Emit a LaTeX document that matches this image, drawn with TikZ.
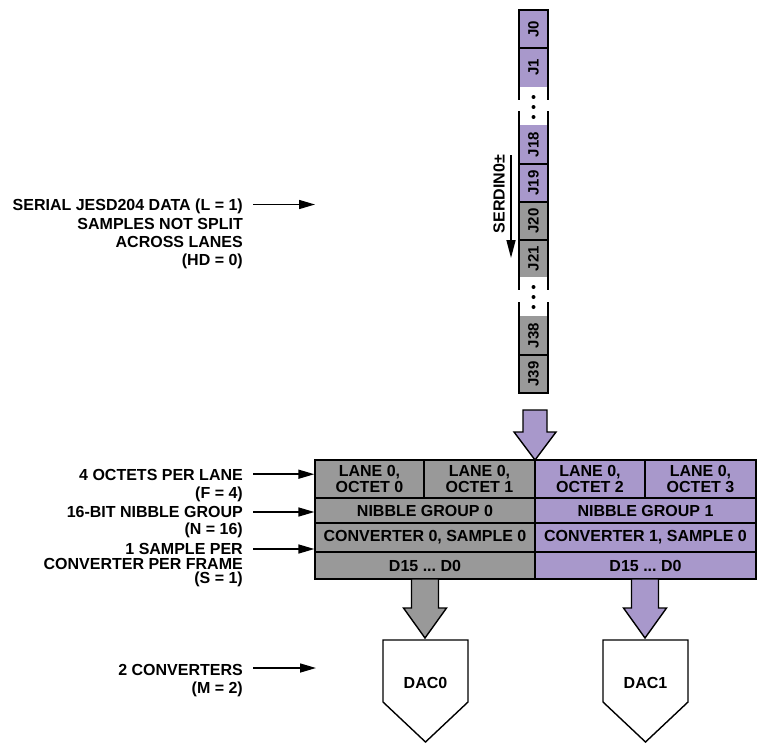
\documentclass[tikz,border=0pt]{standalone}
\usepackage{fontspec}
\setmainfont{Liberation Sans}
\usetikzlibrary{arrows.meta}
\definecolor{purp}{HTML}{A898CB}
\definecolor{gry}{HTML}{999999}
\frenchspacing
\tikzset{
  lbl/.style={inner sep=0pt, align=right, anchor=north east},
  arr/.style={line width=1.5pt, -{Triangle[length=16pt,width=9pt]}},
  lanecell/.style={inner sep=0pt, minimum width=29pt, font=\bfseries\fontsize{15}{16}\selectfont},
  blk/.style={draw, line width=1.3pt, inner sep=0pt, align=center, font=\bfseries\fontsize{16}{16.5}\selectfont},
  bigarr/.style={draw, line width=1.4pt, line join=miter},
  lane/.style={line width=2pt},
  dac/.style={draw, line width=1.4pt, fill=white},
}
\begin{document}
\begin{tikzpicture}[x=1pt,y=-1pt]
\useasboundingbox (0,0) rectangle (759,744);

% ---- lane column ----
\node[lanecell, fill=purp, minimum height=38pt] (j0)  at (533.5,29)   {\rotatebox{90}{J0}};
\node[lanecell, fill=purp, minimum height=39pt] (j1)  at (533.5,67.5) {\rotatebox{90}{J1}};
\node[lanecell, fill=purp, minimum height=39pt] (j18) at (533.5,144.5){\rotatebox{90}{J18}};
\node[lanecell, fill=purp, minimum height=38pt] (j19) at (533.5,183)  {\rotatebox{90}{J19}};
\node[lanecell, fill=gry,  minimum height=38pt] (j20) at (533.5,221)  {\rotatebox{90}{J20}};
\node[lanecell, fill=gry,  minimum height=37pt] (j21) at (533.5,258.5){\rotatebox{90}{J21}};
\node[lanecell, fill=gry,  minimum height=39pt] (j38) at (533.5,335.5){\rotatebox{90}{J38}};
\node[lanecell, fill=gry,  minimum height=38pt] (j39) at (533.5,374)  {\rotatebox{90}{J39}};
\foreach \xx in {519,548} {
  \draw[lane] (\xx,10) -- (\xx,100);
  \draw[lane] (\xx,111) -- (\xx,290);
  \draw[lane] (\xx,302) -- (\xx,393);
}
\foreach \yy in {10,48,164,202,240,355,393} {
  \draw[lane] (518,\yy) -- (549,\yy);
}
\foreach \yy in {97,107,117,287,297,307} {
  \fill (533.5,\yy) circle (2pt);
}

% ---- SERDIN label ----
\node[inner sep=0pt, font=\bfseries\fontsize{16}{18}\selectfont] (serdin) at (499,194) {\rotatebox{90}{SERDIN0±}};
\coordinate (sdtop) at (511,155);
\coordinate (sdbot) at (511,258);
\draw[line width=1.5pt, -{Triangle[length=18pt,width=9pt]}] (sdtop) -- (sdbot);

% ---- big purple arrow ----
\draw[bigarr, fill=purp] (523,410) -- (547,410) -- (547,432) -- (556,432) -- (535,460) -- (514,432) -- (523,432) -- cycle;

% ---- frame block ----
\node[blk, fill=gry,  minimum width=109pt, minimum height=38pt] (o0) at (369.5,479) {LANE 0,\\OCTET 0};
\node[blk, fill=gry,  minimum width=111pt, minimum height=38pt] (o1) at (479.5,479) {LANE 0,\\OCTET 1};
\node[blk, fill=purp, minimum width=110pt, minimum height=38pt] (o2) at (590,479)   {LANE 0,\\OCTET 2};
\node[blk, fill=purp, minimum width=111pt, minimum height=38pt] (o3) at (700.5,479) {LANE 0,\\OCTET 3};
\node[blk, fill=gry,  minimum width=220pt, minimum height=25pt] (n0) at (425,510.5) {NIBBLE GROUP 0};
\node[blk, fill=purp, minimum width=221pt, minimum height=25pt] (n1) at (645.5,510.5) {NIBBLE GROUP 1};
\node[blk, fill=gry,  minimum width=220pt, minimum height=29pt] (c0) at (425,537.5) {CONVERTER 0, SAMPLE 0};
\node[blk, fill=purp, minimum width=221pt, minimum height=29pt] (c1) at (645.5,537.5) {CONVERTER 1, SAMPLE 0};
\node[blk, fill=gry,  minimum width=220pt, minimum height=27pt] (d0) at (425,565.5) {D15 ... D0};
\node[blk, fill=purp, minimum width=221pt, minimum height=27pt] (d1) at (645.5,565.5) {D15 ... D0};
\draw[line width=2pt] (315,460) rectangle (756,579);

% ---- down arrows ----
\draw[bigarr, fill=gry]  (411.5,579) -- (438.5,579) -- (438.5,608) -- (446.5,608) -- (425,638) -- (403.5,608) -- (411.5,608) -- cycle;
\draw[bigarr, fill=purp] (631.5,579) -- (658.5,579) -- (658.5,608) -- (666.5,608) -- (645,638) -- (623.5,608) -- (631.5,608) -- cycle;

% ---- DACs ----
\draw[dac] (383,640) -- (468,640) -- (468,702) -- (425.5,742) -- (383,702) -- cycle;
\draw[dac] (603,640) -- (688,640) -- (688,702) -- (645.5,742) -- (603,702) -- cycle;
\node[inner sep=0pt, font=\bfseries\fontsize{16}{18}\selectfont] (dac0) at (425.5,683) {DAC0};
\node[inner sep=0pt, font=\bfseries\fontsize{16}{18}\selectfont] (dac1) at (645.5,683) {DAC1};

% ---- left labels ----
\node[lbl, font=\bfseries\fontsize{16}{18.3}\selectfont] (l1) at (243,199.2)
  {SERIAL JESD204 DATA (L = 1)\\SAMPLES NOT SPLIT\\ACROSS LANES\\(HD = 0)};
\node[lbl, font=\bfseries\fontsize{16}{18}\selectfont] (l2) at (243,469.2)
  {4 OCTETS PER LANE\\(F = 4)};
\node[lbl, font=\bfseries\fontsize{16}{17}\selectfont] (l3) at (243,506.2)
  {16-BIT NIBBLE GROUP\\(N = 16)};
\node[lbl, font=\bfseries\fontsize{16}{14.5}\selectfont] (l4) at (243,543.2)
  {1 SAMPLE PER\\CONVERTER PER FRAME\\(S = 1)};
\node[lbl, font=\bfseries\fontsize{16}{18}\selectfont] (l5) at (243,664.2)
  {2 CONVERTERS\\(M = 2)};

\coordinate (e1) at (315,204.5);
\draw[arr] ([shift={(10,5.3)}]l1.north east) -- (e1);
\draw[arr] ([shift={(10,5)}]l2.north east) coordinate (s2) -- (s2 -| o0.west);
\draw[arr] ([shift={(10,5.8)}]l3.north east) coordinate (s3) -- (s3 -| n0.west);
\draw[arr] ([shift={(10,5.8)}]l4.north east) coordinate (s4) -- (s4 -| c0.west);
\coordinate (e5) at (316,668);
\draw[arr] ([shift={(10,3.8)}]l5.north east) -- (e5);
\end{tikzpicture}
\end{document}
